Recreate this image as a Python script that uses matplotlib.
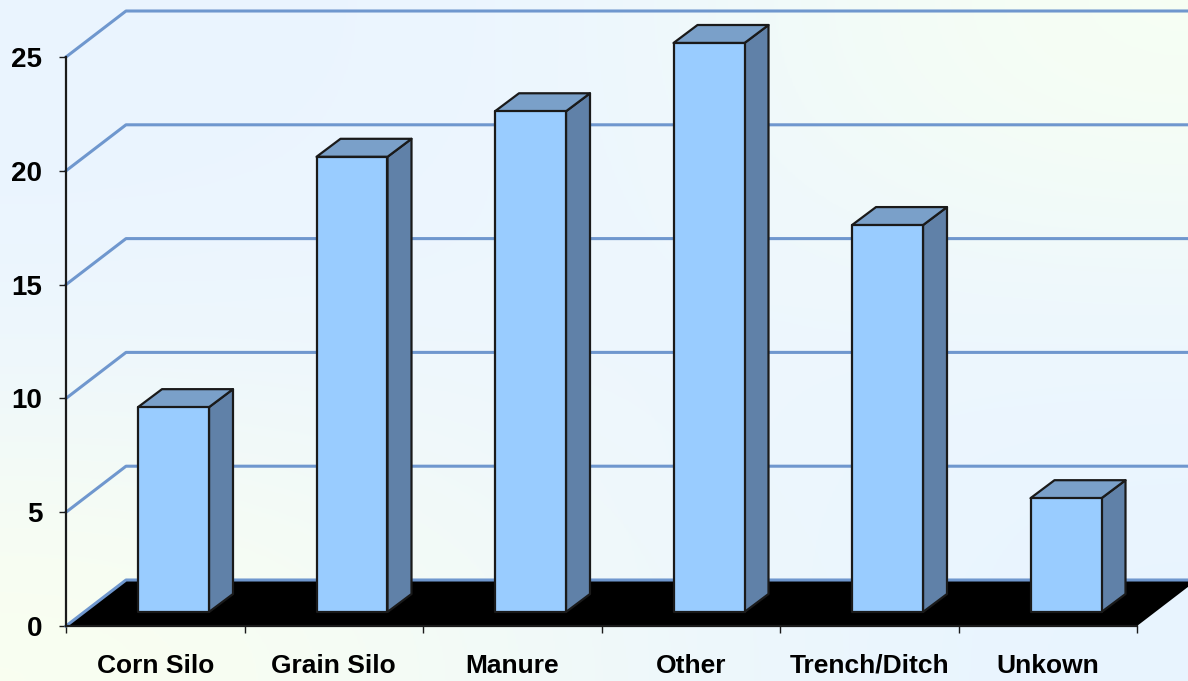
import numpy as np
import matplotlib
matplotlib.use('Agg')
import matplotlib.pyplot as plt
from matplotlib.patches import Polygon

plt.rcParams['font.family'] = ['Liberation Sans', 'DejaVu Sans']

categories = ['Corn Silo', 'Grain Silo', 'Manure', 'Other', 'Trench/Ditch', 'Unkown']
values = [9, 20, 22, 25, 17, 5]
y_ticks = [0, 5, 10, 15, 20, 25]

W, H = 1188, 681
fig = plt.figure(figsize=(W / 100, H / 100), dpi=100)

# background gradient, pale green corners over light blue
bg = fig.add_axes([0, 0, 1, 1], zorder=0)
grad = np.array([[[234, 244, 255], [236, 246, 255], [247, 255, 243]],
                 [[236, 246, 254], [238, 246, 254], [236, 246, 255]],
                 [[250, 255, 240], [240, 249, 250], [232, 244, 255]]]) / 255
bg.imshow(grad, aspect='auto', interpolation='bicubic')
bg.axis('off')

# front plane of the 3d chart, in pixels 66-1137 / 57-626
left, right, top, bottom = 66, 1137, 57, 626
ax = fig.add_axes([left / W, 1 - bottom / H, (right - left) / W, (bottom - top) / H], zorder=1)
ax.patch.set_alpha(0)
ax.set_xlim(0, 6)
ax.set_ylim(0, 25)

px_x = (right - left) / 6
px_y = (bottom - top) / 25
depth_x = 60 / px_x
depth_y = 46 / px_y

grid_c = '#6F97CE'
edge_c = '#1A1A1A'

# floor
ax.add_patch(Polygon([(0, 0), (depth_x, depth_y), (6 + depth_x, depth_y), (6, 0)],
                     fc='black', ec='none', clip_on=False, zorder=2))

# gridlines, slanted part then along the back wall to the picture edge
for v in y_ticks:
    ax.plot([0, depth_x, 6.5], [v, v + depth_y, v + depth_y], color=grid_c, lw=2.2,
            clip_on=False, zorder=1 if v else 3, solid_joinstyle='round')

# bars stand a little in from the front of the floor
bar_w = 71 / px_x
bar_off = 72 / px_x
side_x = 24 / px_x
side_y = 18 / px_y
base = 14 / px_y
for i, v in enumerate(values):
    x0 = i + bar_off
    x1 = x0 + bar_w
    y0 = base
    y1 = base + v
    ax.add_patch(Polygon([(x1, y0), (x1 + side_x, y0 + side_y), (x1 + side_x, y1 + side_y), (x1, y1)],
                         fc='#6081A8', ec=edge_c, lw=1.6, clip_on=False, zorder=4, joinstyle='round'))
    ax.add_patch(Polygon([(x0, y1), (x0 + side_x, y1 + side_y), (x1 + side_x, y1 + side_y), (x1, y1)],
                         fc='#7AA0C9', ec=edge_c, lw=1.6, clip_on=False, zorder=4, joinstyle='round'))
    ax.add_patch(Polygon([(x0, y0), (x0, y1), (x1, y1), (x1, y0)],
                         fc='#99CCFF', ec=edge_c, lw=1.6, clip_on=False, zorder=5, joinstyle='round'))

for s in ['top', 'right']:
    ax.spines[s].set_visible(False)
for s in ['left', 'bottom']:
    ax.spines[s].set_linewidth(1.6)
    ax.spines[s].set_color(edge_c)
    ax.spines[s].set_zorder(6)

ax.set_yticks(y_ticks)
ax.set_xticks(range(7))
ax.set_xticklabels([])
ax.set_xticks(np.arange(6) + 0.5, categories, minor=True)
ax.tick_params(axis='x', which='minor', length=0, pad=20, labelsize=19)
ax.tick_params(axis='x', which='major', length=5, width=1, color=edge_c)
ax.tick_params(axis='y', length=5, width=1, color=edge_c, pad=12, labelsize=20)
for t in ax.get_xticklabels(minor=True) + ax.get_yticklabels():
    t.set_fontweight('bold')
    t.set_color('black')

fig.savefig('out.png', dpi=100)
